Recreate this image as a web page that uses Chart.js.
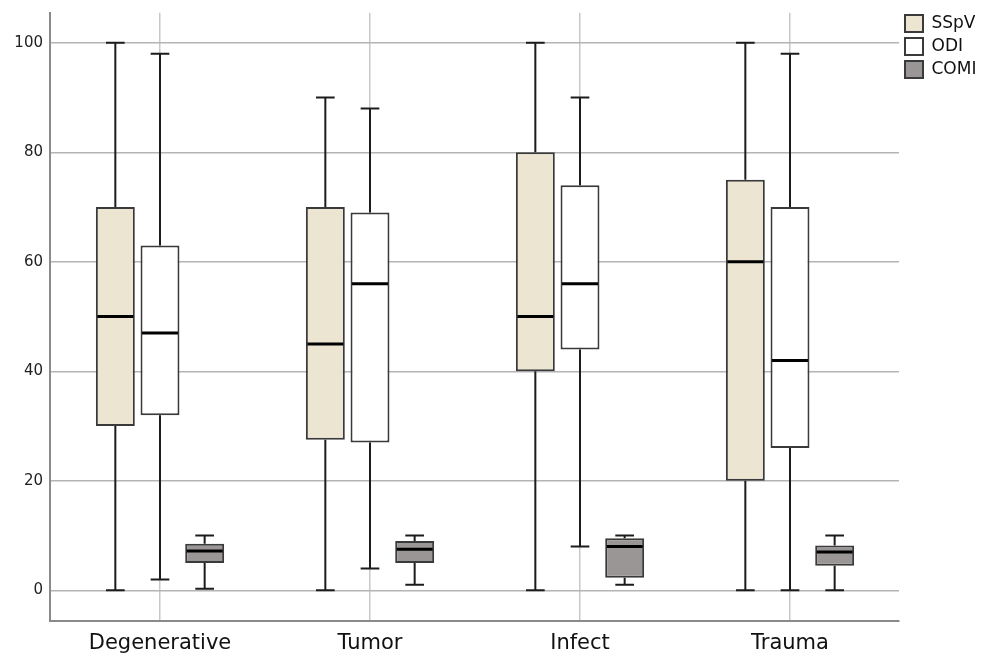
<!DOCTYPE html>
<html>
<head>
<meta charset="utf-8">
<script src="https://cdn.jsdelivr.net/npm/chart.js@4.4.1/dist/chart.umd.min.js"></script>
<style>
  html, body { margin: 0; padding: 0; background: #ffffff; }
  #wrap { width: 984px; height: 655px; position: relative; }
</style>
</head>
<body>
<div id="wrap"><canvas id="c" width="984" height="655"></canvas></div>
<script>
// ---- Data ----
const categories = ['Degenerative', 'Tumor', 'Infect', 'Trauma'];
const seriesNames = ['SSpV', 'ODI', 'COMI'];
const yTicks = [0, 20, 40, 60, 80, 100];

const sspvMin    = [0, 0, 0, 0];
const sspvQ1     = [30, 27.5, 40, 20];
const sspvMedian = [50, 45, 50, 60];
const sspvQ3     = [70, 70, 80, 75];
const sspvMax    = [100, 90, 100, 100];

const odiMin     = [2, 4, 8, 0];
const odiQ1      = [32, 27, 44, 26];
const odiMedian  = [47, 56, 56, 42];
const odiQ3      = [63, 69, 74, 70];
const odiMax     = [98, 88, 90, 98];

const comiMin    = [0.3, 1, 1, 0];
const comiQ1     = [5, 5, 2.3, 4.5];
const comiMedian = [7.2, 7.5, 8, 7];
const comiQ3     = [8.5, 9, 9.5, 8.2];
const comiMax    = [10, 10, 10, 10];

// ---- Build structures for the library ----
const stats = [
  { min: sspvMin, q1: sspvQ1, med: sspvMedian, q3: sspvQ3, max: sspvMax },
  { min: odiMin,  q1: odiQ1,  med: odiMedian,  q3: odiQ3,  max: odiMax },
  { min: comiMin, q1: comiQ1, med: comiMedian, q3: comiQ3, max: comiMax }
];
const fills = ['#ebe5d1', '#ffffff', '#9b9696'];

const datasets = stats.map((s, i) => ({
  label: seriesNames[i],
  data: s.q1.map((v, j) => [v, s.q3[j]]),
  backgroundColor: fills[i],
  borderColor: '#3a3a3a',
  borderWidth: 2,
  borderSkipped: false,
  categoryPercentage: 0.638,
  barPercentage: 0.872
}));

const boxWhisker = {
  id: 'boxWhisker',
  afterDatasetsDraw(chart) {
    const ctx = chart.ctx;
    const ys = chart.scales.y;
    stats.forEach((s, i) => {
      const meta = chart.getDatasetMeta(i);
      meta.data.forEach((bar, j) => {
        const x = bar.x, w = bar.width;
        const pMin = ys.getPixelForValue(s.min[j]);
        const pMax = ys.getPixelForValue(s.max[j]);
        const pQ1 = ys.getPixelForValue(s.q1[j]);
        const pQ3 = ys.getPixelForValue(s.q3[j]);
        const pMed = ys.getPixelForValue(s.med[j]);
        const c = w * 0.24;
        ctx.save();
        ctx.strokeStyle = '#1c1c1c';
        ctx.lineWidth = 2;
        ctx.beginPath();
        ctx.moveTo(x, pQ3); ctx.lineTo(x, pMax);
        ctx.moveTo(x, pQ1); ctx.lineTo(x, pMin);
        ctx.moveTo(x - c, pMax); ctx.lineTo(x + c, pMax);
        ctx.moveTo(x - c, pMin); ctx.lineTo(x + c, pMin);
        ctx.stroke();
        ctx.strokeStyle = '#000000';
        ctx.lineWidth = 3;
        ctx.beginPath();
        ctx.moveTo(x - w / 2 + 1.5, pMed); ctx.lineTo(x + w / 2 - 1.5, pMed);
        ctx.stroke();
        ctx.restore();
      });
    });
  }
};

new Chart(document.getElementById('c'), {
  type: 'bar',
  data: { labels: categories, datasets: datasets },
  plugins: [boxWhisker],
  options: {
    responsive: false,
    animation: false,
    layout: { padding: { top: 9, left: 0, right: 0, bottom: 0 } },
    plugins: {
      tooltip: { enabled: false },
      legend: {
        position: 'right',
        align: 'start',
        maxWidth: 85,
        labels: {
          boxWidth: 18,
          boxHeight: 17,
          padding: 6,
          color: '#111111',
          font: { family: 'DejaVu Sans', size: 17 }
        }
      }
    },
    scales: {
      x: {
        offset: true,
        afterFit(scale) { scale.height = 34; },
        afterBuildTicks(scale) {
          // category spacing of the reference: 210 px per category, first centre 110 px in
          const w = scale.right - scale.left;
          if (w > 0) {
            scale._valueRange = w / 210;
            scale._startValue = -110 / 210;
          }
        },
        grid: { display: true, offset: false, color: '#c8c8c8', lineWidth: 1.5, drawTicks: false },
        border: { display: true, color: '#8a8a8a', width: 2 },
        ticks: {
          color: '#111111',
          padding: 10,
          maxRotation: 0,
          autoSkip: false,
          font: { family: 'DejaVu Sans', size: 21 }
        }
      },
      y: {
        min: -5.6,
        max: 105.5,
        afterFit(scale) { scale.width = 50; scale.paddingTop = 12.7; scale.paddingBottom = 0; },
        afterBuildTicks(scale) { scale.ticks = yTicks.map(v => ({ value: v })); },
        grid: { color: '#b4b4b4', lineWidth: 1.5, drawTicks: false },
        border: { display: true, color: '#8a8a8a', width: 2 },
        ticks: {
          color: '#222222',
          padding: 7,
          font: { family: 'DejaVu Sans', size: 15 }
        }
      }
    }
  }
});
</script>
</body>
</html>
